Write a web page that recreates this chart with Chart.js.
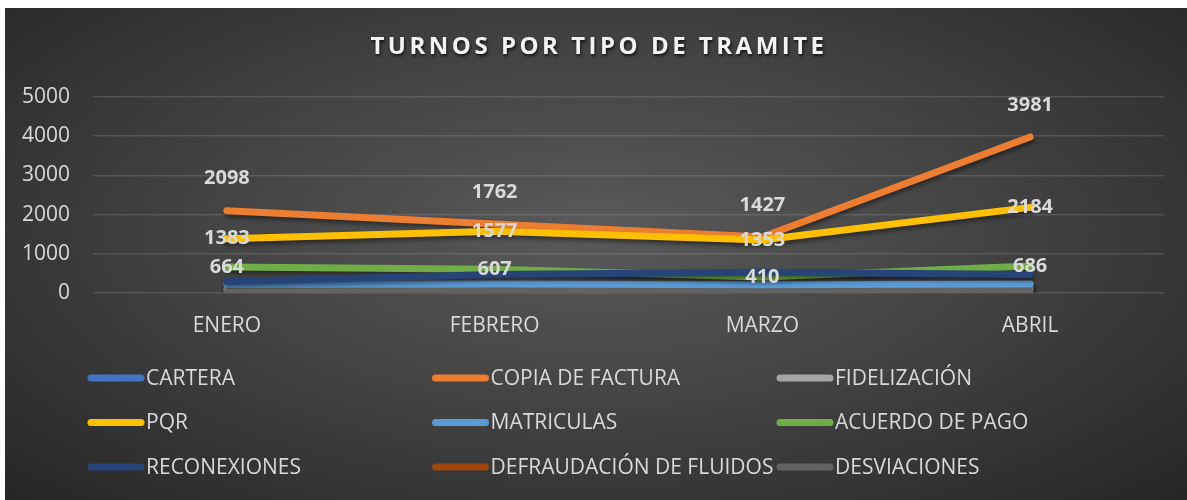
<!DOCTYPE html>
<html>
<head>
<meta charset="utf-8">
<script src="https://cdn.jsdelivr.net/npm/chart.js@4"></script>
<style>
  body { margin: 0; background: #fff; }
  #wrap {
    position: absolute; left: 5px; top: 8px; width: 1182px; height: 492px;
    background: radial-gradient(ellipse at 50% 45%, #5a5a5a 0%, #444 45%, #262626 100%);
  }
</style>
</head>
<body>
<div id="wrap"><canvas id="turnos"></canvas></div>
<script>
// categorias y series
var meses = ["ENERO", "FEBRERO", "MARZO", "ABRIL"];

var cartera = [200, 210, 190, 210];
var copiaFactura = [2098, 1762, 1427, 3981];
var fidelizacion = [100, 110, 110, 110];
var pqr = [1383, 1577, 1353, 2184];
var matriculas = [220, 230, 210, 230];
var acuerdoPago = [664, 607, 410, 686];
var reconexiones = [290, 470, 530, 470];
var defraudacion = [10, 10, 10, 10];
var desviaciones = [15, 15, 15, 15];

var yTicks = [0, 1000, 2000, 3000, 4000, 5000];

var series = [
    { label: "CARTERA", data: cartera, color: "#4472C4" },
    { label: "COPIA DE FACTURA", data: copiaFactura, color: "#ED7D31", dl: "above" },
    { label: "FIDELIZACIÓN", data: fidelizacion, color: "#A5A5A5" },
    { label: "PQR", data: pqr, color: "#FFC000", dl: "center" },
    { label: "MATRICULAS", data: matriculas, color: "#5B9BD5" },
    { label: "ACUERDO DE PAGO", data: acuerdoPago, color: "#70AD47", dl: "center" },
    { label: "RECONEXIONES", data: reconexiones, color: "#264478" },
    { label: "DEFRAUDACIÓN DE FLUIDOS", data: defraudacion, color: "#9E480E" },
    { label: "DESVIACIONES", data: desviaciones, color: "#636363" }
];

var FONT = '"Open Sans", sans-serif';
var TXT = "#d9d9d9";

// titulo, sombras, etiquetas y leyenda
var extras = {
    id: "extras",
    beforeDatasetDraw: function (chart) {
        var ctx = chart.ctx;
        ctx.save();
        ctx.shadowColor = "rgba(0,0,0,0.45)";
        ctx.shadowBlur = 4;
        ctx.shadowOffsetX = 1;
        ctx.shadowOffsetY = 3;
    },
    afterDatasetDraw: function (chart) {
        chart.ctx.restore();
    },
    afterDatasetsDraw: function (chart) {
        var ctx = chart.ctx;
        ctx.save();
        ctx.font = "bold 20px " + FONT;
        ctx.fillStyle = TXT;
        ctx.textAlign = "center";
        ctx.textBaseline = "middle";
        series.forEach(function (s, i) {
            if (!s.dl) return;
            chart.getDatasetMeta(i).data.forEach(function (pt, j) {
                var y = s.dl == "above" ? pt.y - 32 : pt.y;
                ctx.fillText(String(s.data[j]), pt.x, y);
            });
        });
        ctx.restore();
    },
    afterDraw: function (chart) {
        var ctx = chart.ctx;
        // title
        ctx.save();
        ctx.font = "bold 24px " + FONT;
        if ("letterSpacing" in ctx) ctx.letterSpacing = "3.5px";
        ctx.textAlign = "center";
        ctx.textBaseline = "middle";
        ctx.shadowColor = "rgba(0,0,0,0.7)";
        ctx.shadowBlur = 3;
        ctx.shadowOffsetX = 1;
        ctx.shadowOffsetY = 2;
        ctx.fillStyle = "#f2f2f2";
        ctx.fillText("TURNOS POR TIPO DE TRAMITE", chart.width / 2 + 3, 39);
        ctx.restore();

        // legend, 3 columnas
        ctx.save();
        ctx.font = "21px " + FONT;
        ctx.textAlign = "left";
        ctx.textBaseline = "middle";
        series.forEach(function (s, i) {
            var x0 = 86 + (i % 3) * 344.5;
            var y = 370 + Math.floor(i / 3) * 44.5;
            ctx.strokeStyle = s.color;
            ctx.lineWidth = 7;
            ctx.lineCap = "round";
            ctx.beginPath();
            ctx.moveTo(x0, y);
            ctx.lineTo(x0 + 50, y);
            ctx.stroke();
            ctx.fillStyle = TXT;
            ctx.fillText(s.label, x0 + 55, y + 1);
        });
        ctx.restore();
    }
};

var datasets = series.map(function (s, i) {
    return {
        label: s.label,
        data: s.data,
        borderColor: s.color,
        backgroundColor: s.color,
        borderWidth: 7,
        borderCapStyle: "round",
        borderJoinStyle: "round",
        pointRadius: 0,
        pointHoverRadius: 0,
        tension: 0,
        order: series.length - i
    };
});

new Chart(document.getElementById("turnos").getContext("2d"), {
    type: "line",
    data: { labels: meses, datasets: datasets },
    options: {
        responsive: true,
        maintainAspectRatio: false,
        animation: false,
        layout: { padding: { top: 89, left: 0, right: 23, bottom: 167 } },
        plugins: {
            legend: { display: false },
            title: { display: false },
            tooltip: { enabled: false }
        },
        scales: {
            x: {
                offset: true,
                grid: { display: false, drawTicks: false },
                border: { display: false },
                ticks: { color: TXT, font: { family: FONT, size: 21 }, padding: 20 },
                afterFit: function (scale) { scale.height = 40; }
            },
            y: {
                min: 0,
                max: 5000,
                afterBuildTicks: function (scale) {
                    scale.ticks = yTicks.map(function (v) { return { value: v }; });
                },
                grid: { color: "rgba(217,217,217,0.16)", lineWidth: 1.5, drawTicks: false },
                border: { display: false },
                ticks: {
                    color: TXT, font: { family: FONT, size: 21 }, padding: 23,
                    callback: function (v) { return String(v); }
                },
                afterFit: function (scale) { scale.width = 88; }
            }
        }
    },
    plugins: [extras]
});
</script>
</body>
</html>
